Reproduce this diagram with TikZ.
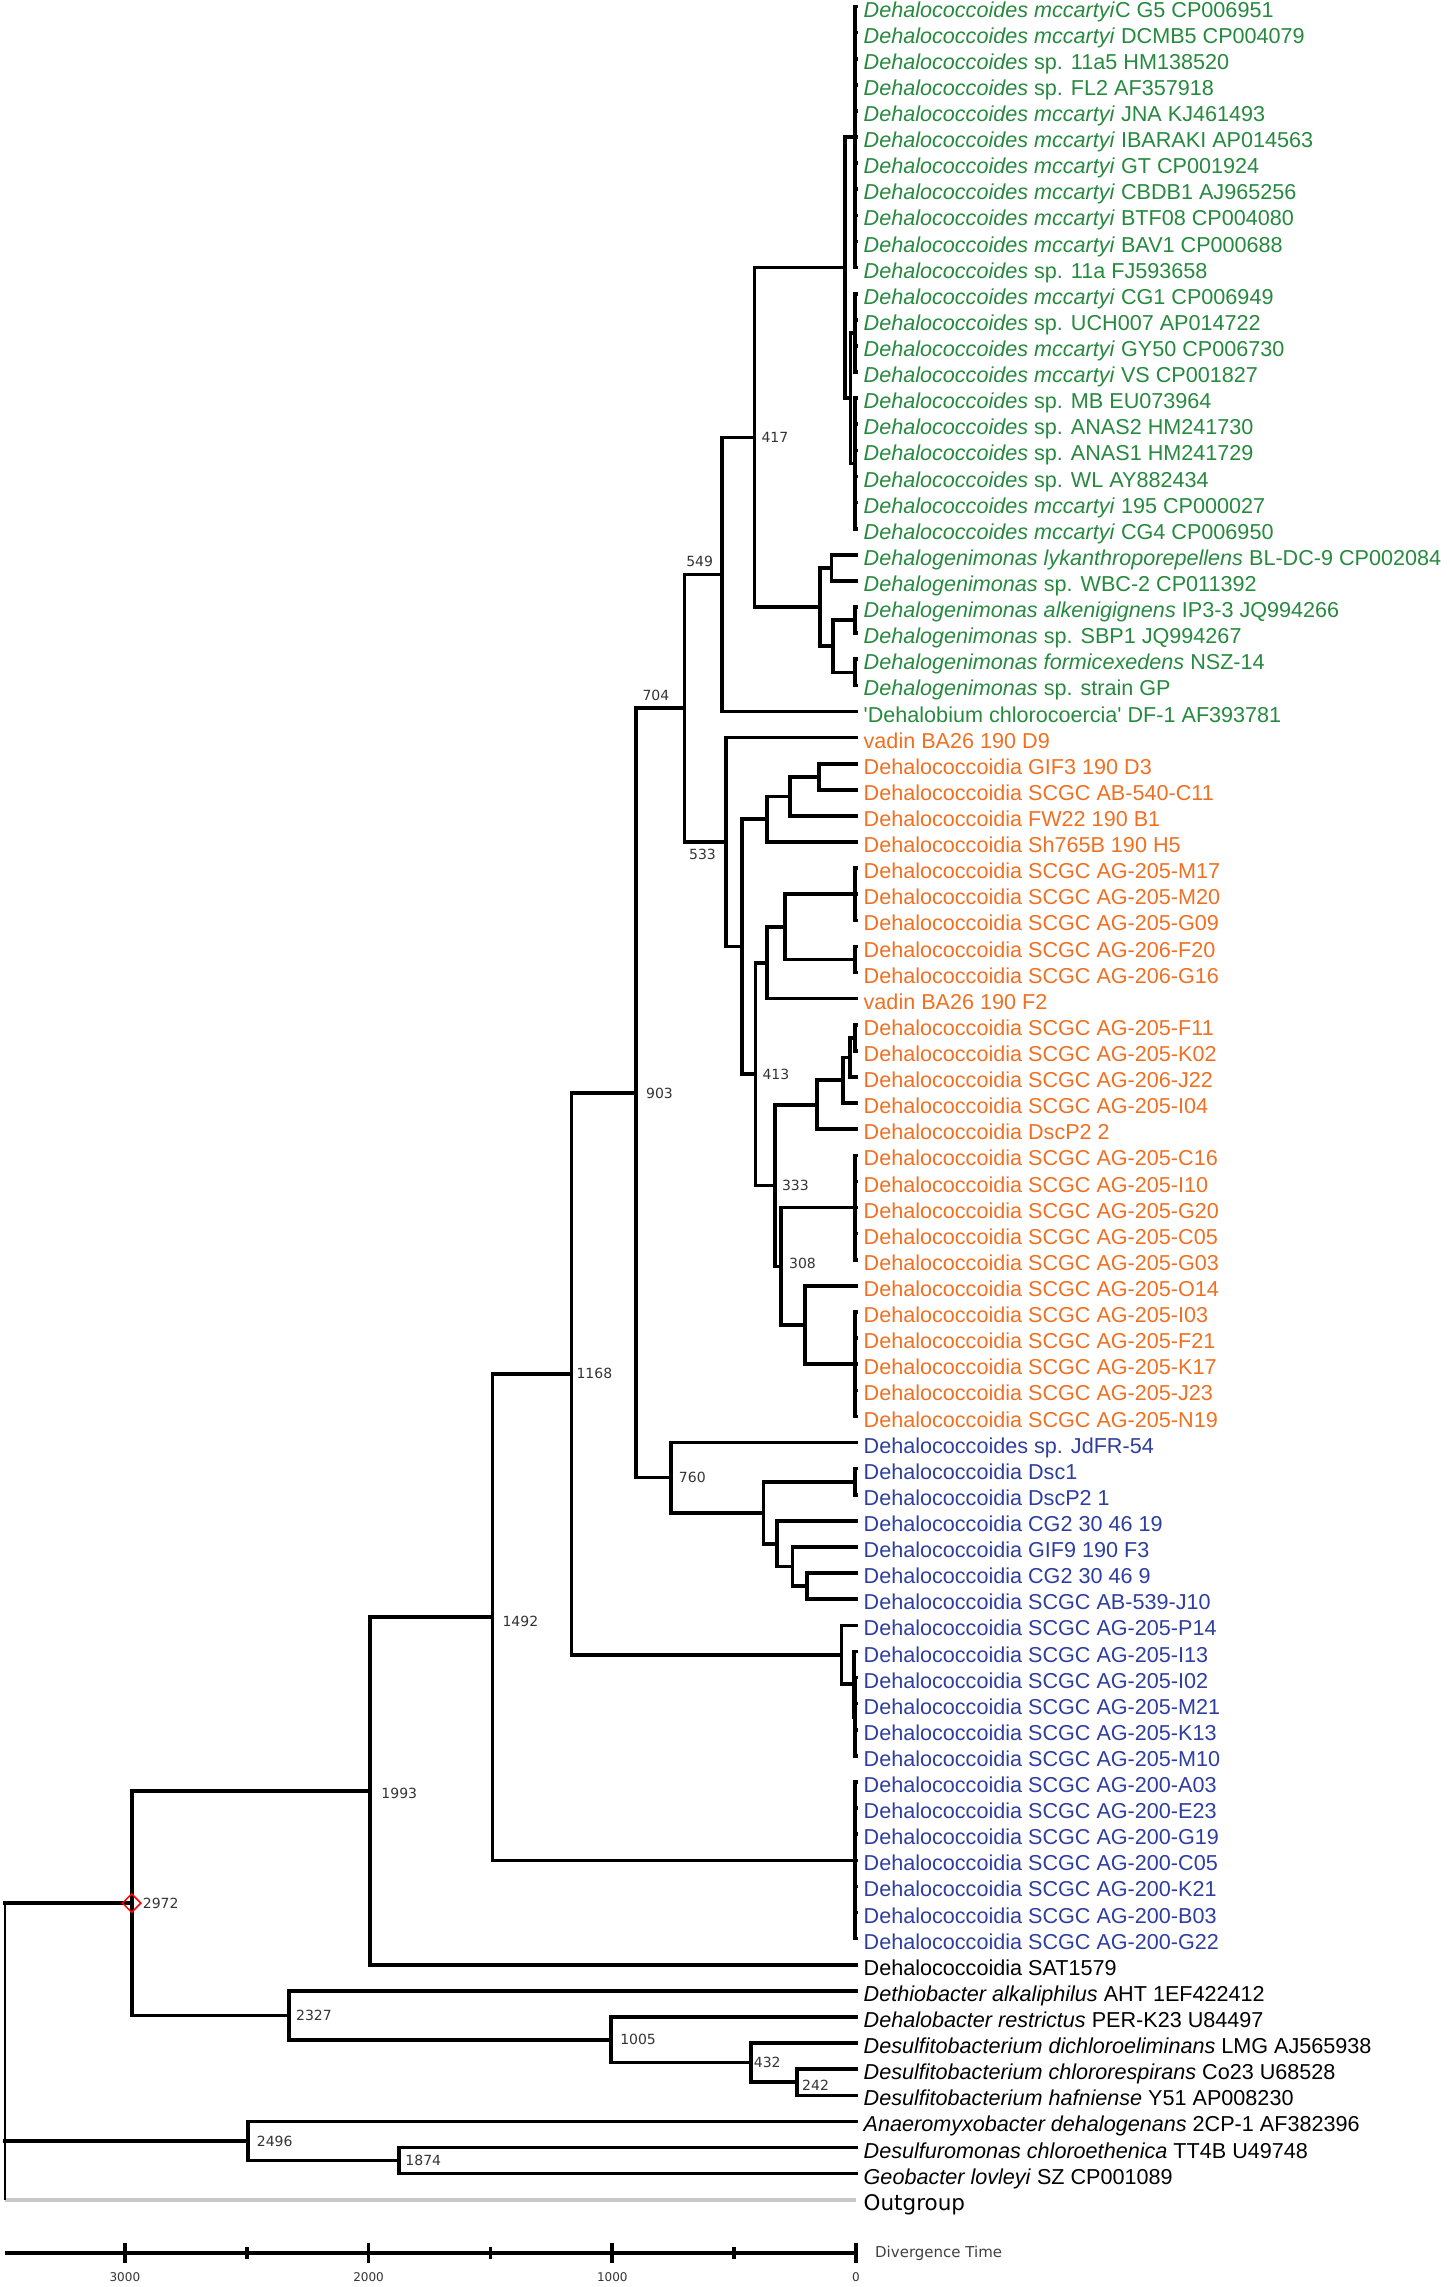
\documentclass[tikz,border=0pt]{standalone}
\usepackage{fontspec}
\setmainfont{Liberation Sans}
\newfontfamily\agefont{DejaVu Sans}
\usepackage{tikz}
\usetikzlibrary{shapes.geometric}
\definecolor{dgreen}{RGB}{38,138,62}
\definecolor{dorange}{RGB}{240,112,34}
\definecolor{dblue}{RGB}{46,62,160}

\begin{document}
\begin{tikzpicture}[
  x=-0.2437pt, y=-26.11pt,
  branch/.style={draw, line width=3.6pt, line cap=rect},
  outline/.style={draw=black!22, line width=4pt},
  leaflab/.style={anchor=west, inner sep=0pt, xshift=7.5pt, yshift=-5pt,
    text height=15.6pt, text depth=4.5pt, font=\fontsize{21.6}{24}\selectfont},
  agelab/.style={anchor=west, inner sep=0pt, text=black!80,
    font={\agefont\fontsize{14}{16}\selectfont}},
  ticklab/.style={inner sep=0pt, text=black!80, font={\agefont\fontsize{12}{14}\selectfont}},
  axisline/.style={line width=3.6pt}
]
\useasboundingbox (3512.5,0.751) rectangle (-2437.4,88.342);

\foreach \i in {1,...,85} \coordinate (t\i) at (0,\i);

% Dehalococcoides / Dehalogenimonas
\coordinate (pA) at (4,6);
\coordinate (pC1) at (4,13.5);
\coordinate (pC2) at (4,18.5);
\coordinate (nC) at (22,16);
\coordinate (nB) at (45,11);
\coordinate (pE1) at (100,22.5);
\coordinate (pE3) at (4,24.5);
\coordinate (pE4) at (4,26.5);
\coordinate (nE2) at (94,25.5);
\coordinate (nE) at (148,24);
\coordinate (n417) at (417,17.5);
\coordinate (n549) at (549,22.75);

% orange clade
\coordinate (nG11) at (152,30.5);
\coordinate (nG1) at (271,31.25);
\coordinate (nG) at (366,32.125);
\coordinate (pQ1) at (4,35);
\coordinate (pQ2) at (4,37.5);
\coordinate (nQ) at (291,36.25);
\coordinate (nP) at (366,37.625);
\coordinate (pM1) at (4,40.5);
\coordinate (nM) at (25,41.25);
\coordinate (nH2) at (53,42.125);
\coordinate (nH1) at (161,43.0625);
\coordinate (pL) at (4,47);
\coordinate (pK) at (4,53);
\coordinate (nJ) at (209,51.5);
\coordinate (n308) at (308,49.25);
\coordinate (n333) at (333,46.156);
\coordinate (n413) at (413,41.89);
\coordinate (nF) at (468,37.008);
\coordinate (n533) at (533,33.004);
\coordinate (n704) at (704,27.877);

% blue clade
\coordinate (pD2) at (4,57.5);
\coordinate (nD5) at (202,61.5);
\coordinate (nD4) at (261,60.75);
\coordinate (nD3) at (323,59.875);
\coordinate (nD1) at (380,58.688);
\coordinate (n760) at (760,57.344);
\coordinate (n903) at (903,42.61);
\coordinate (pS2) at (3,66.5);
\coordinate (nS1) at (8,65.25);
\coordinate (nS) at (59,64.125);
\coordinate (n1168) at (1168,53.37);
\coordinate (pT) at (4,72);
\coordinate (n1492) at (1492,62.685);
\coordinate (n1993) at (1993,69.34);

% outer taxa
\coordinate (n242) at (242,80.5);
\coordinate (n432) at (432,79.75);
\coordinate (n1005) at (1005,78.875);
\coordinate (n2327) at (2327,77.94);
\coordinate (n2972) at (2972,73.64);
\coordinate (n1874) at (1874,83.5);
\coordinate (n2496) at (2496,82.75);
\coordinate (root) at (3492,85);

\foreach \i in {1,...,11} \draw[branch] (pA) |- (t\i);
\foreach \i in {12,...,15} \draw[branch] (pC1) |- (t\i);
\foreach \i in {16,...,21} \draw[branch] (pC2) |- (t\i);
\draw[branch] (nC) |- (pC1);
\draw[branch] (nC) |- (pC2);
\draw[branch] (nB) |- (pA);
\draw[branch] (nB) |- (nC);
\draw[branch] (pE1) |- (t22);
\draw[branch] (pE1) |- (t23);
\draw[branch] (pE3) |- (t24);
\draw[branch] (pE3) |- (t25);
\draw[branch] (pE4) |- (t26);
\draw[branch] (pE4) |- (t27);
\draw[branch] (nE2) |- (pE3);
\draw[branch] (nE2) |- (pE4);
\draw[branch] (nE) |- (pE1);
\draw[branch] (nE) |- (nE2);
\draw[branch] (n417) |- (nB);
\draw[branch] (n417) |- (nE);
\draw[branch] (n549) |- (n417);
\draw[branch] (n549) |- (t28);

\draw[branch] (nG11) |- (t30);
\draw[branch] (nG11) |- (t31);
\draw[branch] (nG1) |- (nG11);
\draw[branch] (nG1) |- (t32);
\draw[branch] (nG) |- (nG1);
\draw[branch] (nG) |- (t33);
\foreach \i in {34,35,36} \draw[branch] (pQ1) |- (t\i);
\foreach \i in {37,38} \draw[branch] (pQ2) |- (t\i);
\draw[branch] (nQ) |- (pQ1);
\draw[branch] (nQ) |- (pQ2);
\draw[branch] (nP) |- (nQ);
\draw[branch] (nP) |- (t39);
\draw[branch] (pM1) |- (t40);
\draw[branch] (pM1) |- (t41);
\draw[branch] (nM) |- (pM1);
\draw[branch] (nM) |- (t42);
\draw[branch] (nH2) |- (nM);
\draw[branch] (nH2) |- (t43);
\draw[branch] (nH1) |- (nH2);
\draw[branch] (nH1) |- (t44);
\foreach \i in {45,...,49} \draw[branch] (pL) |- (t\i);
\foreach \i in {51,...,55} \draw[branch] (pK) |- (t\i);
\draw[branch] (nJ) |- (t50);
\draw[branch] (nJ) |- (pK);
\draw[branch] (n308) |- (pL);
\draw[branch] (n308) |- (nJ);
\draw[branch] (n333) |- (nH1);
\draw[branch] (n333) |- (n308);
\draw[branch] (n413) |- (nP);
\draw[branch] (n413) |- (n333);
\draw[branch] (nF) |- (nG);
\draw[branch] (nF) |- (n413);
\draw[branch] (n533) |- (t29);
\draw[branch] (n533) |- (nF);
\draw[branch] (n704) |- (n549);
\draw[branch] (n704) |- (n533);

\draw[branch] (pD2) |- (t57);
\draw[branch] (pD2) |- (t58);
\draw[branch] (nD5) |- (t61);
\draw[branch] (nD5) |- (t62);
\draw[branch] (nD4) |- (t60);
\draw[branch] (nD4) |- (nD5);
\draw[branch] (nD3) |- (t59);
\draw[branch] (nD3) |- (nD4);
\draw[branch] (nD1) |- (pD2);
\draw[branch] (nD1) |- (nD3);
\draw[branch] (n760) |- (t56);
\draw[branch] (n760) |- (nD1);
\draw[branch] (n903) |- (n704);
\draw[branch] (n903) |- (n760);
\foreach \i in {65,...,68} \draw[branch] (pS2) |- (t\i);
\draw[branch] (nS1) |- (t64);
\draw[branch] (nS1) |- (pS2);
\draw[branch] (nS) |- (t63);
\draw[branch] (nS) |- (nS1);
\draw[branch] (n1168) |- (n903);
\draw[branch] (n1168) |- (nS);
\foreach \i in {69,...,75} \draw[branch] (pT) |- (t\i);
\draw[branch] (n1492) |- (n1168);
\draw[branch] (n1492) |- (pT);
\draw[branch] (n1993) |- (n1492);
\draw[branch] (n1993) |- (t76);

\draw[branch] (n242) |- (t80);
\draw[branch] (n242) |- (t81);
\draw[branch] (n432) |- (t79);
\draw[branch] (n432) |- (n242);
\draw[branch] (n1005) |- (t78);
\draw[branch] (n1005) |- (n432);
\draw[branch] (n2327) |- (t77);
\draw[branch] (n2327) |- (n1005);
\draw[branch] (n2972) |- (n1993);
\draw[branch] (n2972) |- (n2327);
\draw[branch] (n1874) |- (t83);
\draw[branch] (n1874) |- (t84);
\draw[branch] (n2496) |- (t82);
\draw[branch] (n2496) |- (n1874);
\draw[outline] (root) -- (t85);
\draw[line width=2pt] (root) -- (root |- n2972);
\draw[branch] (root |- n2972) -- (n2972);
\draw[branch] (root |- n2496) -- (n2496);

\node[leaflab,text=dgreen] (l1) at (t1) {\textit{Dehalococcoides mccartyi}C G5 CP006951};
\node[leaflab,text=dgreen] (l2) at (t2) {\textit{Dehalococcoides mccartyi} DCMB5 CP004079};
\node[leaflab,text=dgreen] (l3) at (t3) {\textit{Dehalococcoides} sp. 11a5 HM138520};
\node[leaflab,text=dgreen] (l4) at (t4) {\textit{Dehalococcoides} sp. FL2 AF357918};
\node[leaflab,text=dgreen] (l5) at (t5) {\textit{Dehalococcoides mccartyi} JNA KJ461493};
\node[leaflab,text=dgreen] (l6) at (t6) {\textit{Dehalococcoides mccartyi} IBARAKI AP014563};
\node[leaflab,text=dgreen] (l7) at (t7) {\textit{Dehalococcoides mccartyi} GT CP001924};
\node[leaflab,text=dgreen] (l8) at (t8) {\textit{Dehalococcoides mccartyi} CBDB1 AJ965256};
\node[leaflab,text=dgreen] (l9) at (t9) {\textit{Dehalococcoides mccartyi} BTF08 CP004080};
\node[leaflab,text=dgreen] (l10) at (t10) {\textit{Dehalococcoides mccartyi} BAV1 CP000688};
\node[leaflab,text=dgreen] (l11) at (t11) {\textit{Dehalococcoides} sp. 11a FJ593658};
\node[leaflab,text=dgreen] (l12) at (t12) {\textit{Dehalococcoides mccartyi} CG1 CP006949};
\node[leaflab,text=dgreen] (l13) at (t13) {\textit{Dehalococcoides} sp. UCH007 AP014722};
\node[leaflab,text=dgreen] (l14) at (t14) {\textit{Dehalococcoides mccartyi} GY50 CP006730};
\node[leaflab,text=dgreen] (l15) at (t15) {\textit{Dehalococcoides mccartyi} VS CP001827};
\node[leaflab,text=dgreen] (l16) at (t16) {\textit{Dehalococcoides} sp. MB EU073964};
\node[leaflab,text=dgreen] (l17) at (t17) {\textit{Dehalococcoides} sp. ANAS2 HM241730};
\node[leaflab,text=dgreen] (l18) at (t18) {\textit{Dehalococcoides} sp. ANAS1 HM241729};
\node[leaflab,text=dgreen] (l19) at (t19) {\textit{Dehalococcoides} sp. WL AY882434};
\node[leaflab,text=dgreen] (l20) at (t20) {\textit{Dehalococcoides mccartyi} 195 CP000027};
\node[leaflab,text=dgreen] (l21) at (t21) {\textit{Dehalococcoides mccartyi} CG4 CP006950};
\node[leaflab,text=dgreen] (l22) at (t22) {\textit{Dehalogenimonas lykanthroporepellens} BL-DC-9 CP002084};
\node[leaflab,text=dgreen] (l23) at (t23) {\textit{Dehalogenimonas} sp. WBC-2 CP011392};
\node[leaflab,text=dgreen] (l24) at (t24) {\textit{Dehalogenimonas alkenigignens} IP3-3 JQ994266};
\node[leaflab,text=dgreen] (l25) at (t25) {\textit{Dehalogenimonas} sp. SBP1 JQ994267};
\node[leaflab,text=dgreen] (l26) at (t26) {\textit{Dehalogenimonas formicexedens} NSZ-14};
\node[leaflab,text=dgreen] (l27) at (t27) {\textit{Dehalogenimonas} sp. strain GP};
\node[leaflab,text=dgreen] (l28) at (t28) {\textquotesingle Dehalobium chlorocoercia\textquotesingle{} DF-1 AF393781};

\node[leaflab,text=dorange] (l29) at (t29) {vadin BA26 190 D9};
\node[leaflab,text=dorange] (l30) at (t30) {Dehalococcoidia GIF3 190 D3};
\node[leaflab,text=dorange] (l31) at (t31) {Dehalococcoidia SCGC AB-540-C11};
\node[leaflab,text=dorange] (l32) at (t32) {Dehalococcoidia FW22 190 B1};
\node[leaflab,text=dorange] (l33) at (t33) {Dehalococcoidia Sh765B 190 H5};
\node[leaflab,text=dorange] (l34) at (t34) {Dehalococcoidia SCGC AG-205-M17};
\node[leaflab,text=dorange] (l35) at (t35) {Dehalococcoidia SCGC AG-205-M20};
\node[leaflab,text=dorange] (l36) at (t36) {Dehalococcoidia SCGC AG-205-G09};
\node[leaflab,text=dorange] (l37) at (t37) {Dehalococcoidia SCGC AG-206-F20};
\node[leaflab,text=dorange] (l38) at (t38) {Dehalococcoidia SCGC AG-206-G16};
\node[leaflab,text=dorange] (l39) at (t39) {vadin BA26 190 F2};
\node[leaflab,text=dorange] (l40) at (t40) {Dehalococcoidia SCGC AG-205-F11};
\node[leaflab,text=dorange] (l41) at (t41) {Dehalococcoidia SCGC AG-205-K02};
\node[leaflab,text=dorange] (l42) at (t42) {Dehalococcoidia SCGC AG-206-J22};
\node[leaflab,text=dorange] (l43) at (t43) {Dehalococcoidia SCGC AG-205-I04};
\node[leaflab,text=dorange] (l44) at (t44) {Dehalococcoidia DscP2 2};
\node[leaflab,text=dorange] (l45) at (t45) {Dehalococcoidia SCGC AG-205-C16};
\node[leaflab,text=dorange] (l46) at (t46) {Dehalococcoidia SCGC AG-205-I10};
\node[leaflab,text=dorange] (l47) at (t47) {Dehalococcoidia SCGC AG-205-G20};
\node[leaflab,text=dorange] (l48) at (t48) {Dehalococcoidia SCGC AG-205-C05};
\node[leaflab,text=dorange] (l49) at (t49) {Dehalococcoidia SCGC AG-205-G03};
\node[leaflab,text=dorange] (l50) at (t50) {Dehalococcoidia SCGC AG-205-O14};
\node[leaflab,text=dorange] (l51) at (t51) {Dehalococcoidia SCGC AG-205-I03};
\node[leaflab,text=dorange] (l52) at (t52) {Dehalococcoidia SCGC AG-205-F21};
\node[leaflab,text=dorange] (l53) at (t53) {Dehalococcoidia SCGC AG-205-K17};
\node[leaflab,text=dorange] (l54) at (t54) {Dehalococcoidia SCGC AG-205-J23};
\node[leaflab,text=dorange] (l55) at (t55) {Dehalococcoidia SCGC AG-205-N19};

\node[leaflab,text=dblue] (l56) at (t56) {Dehalococcoides sp. JdFR-54};
\node[leaflab,text=dblue] (l57) at (t57) {Dehalococcoidia Dsc1};
\node[leaflab,text=dblue] (l58) at (t58) {Dehalococcoidia DscP2 1};
\node[leaflab,text=dblue] (l59) at (t59) {Dehalococcoidia CG2 30 46 19};
\node[leaflab,text=dblue] (l60) at (t60) {Dehalococcoidia GIF9 190 F3};
\node[leaflab,text=dblue] (l61) at (t61) {Dehalococcoidia CG2 30 46 9};
\node[leaflab,text=dblue] (l62) at (t62) {Dehalococcoidia SCGC AB-539-J10};
\node[leaflab,text=dblue] (l63) at (t63) {Dehalococcoidia SCGC AG-205-P14};
\node[leaflab,text=dblue] (l64) at (t64) {Dehalococcoidia SCGC AG-205-I13};
\node[leaflab,text=dblue] (l65) at (t65) {Dehalococcoidia SCGC AG-205-I02};
\node[leaflab,text=dblue] (l66) at (t66) {Dehalococcoidia SCGC AG-205-M21};
\node[leaflab,text=dblue] (l67) at (t67) {Dehalococcoidia SCGC AG-205-K13};
\node[leaflab,text=dblue] (l68) at (t68) {Dehalococcoidia SCGC AG-205-M10};
\node[leaflab,text=dblue] (l69) at (t69) {Dehalococcoidia SCGC AG-200-A03};
\node[leaflab,text=dblue] (l70) at (t70) {Dehalococcoidia SCGC AG-200-E23};
\node[leaflab,text=dblue] (l71) at (t71) {Dehalococcoidia SCGC AG-200-G19};
\node[leaflab,text=dblue] (l72) at (t72) {Dehalococcoidia SCGC AG-200-C05};
\node[leaflab,text=dblue] (l73) at (t73) {Dehalococcoidia SCGC AG-200-K21};
\node[leaflab,text=dblue] (l74) at (t74) {Dehalococcoidia SCGC AG-200-B03};
\node[leaflab,text=dblue] (l75) at (t75) {Dehalococcoidia SCGC AG-200-G22};

\node[leaflab] (l76) at (t76) {Dehalococcoidia SAT1579};
\node[leaflab] (l77) at (t77) {\textit{Dethiobacter alkaliphilus} AHT 1EF422412};
\node[leaflab] (l78) at (t78) {\textit{Dehalobacter restrictus} PER-K23 U84497};
\node[leaflab] (l79) at (t79) {\textit{Desulfitobacterium dichloroeliminans} LMG AJ565938};
\node[leaflab] (l80) at (t80) {\textit{Desulfitobacterium chlororespirans} Co23 U68528};
\node[leaflab] (l81) at (t81) {\textit{Desulfitobacterium hafniense} Y51 AP008230};
\node[leaflab] (l82) at (t82) {\textit{Anaeromyxobacter dehalogenans} 2CP-1 AF382396};
\node[leaflab] (l83) at (t83) {\textit{Desulfuromonas chloroethenica} TT4B U49748};
\node[leaflab] (l84) at (t84) {\textit{Geobacter lovleyi} SZ CP001089};
\node[leaflab,font={\agefont\fontsize{21.5}{24}\selectfont}] (l85) at (t85) {Outgroup};

\node[agelab,xshift=7pt] (a417) at (n417) {417};
\node[agelab,anchor=east,xshift=-9pt,yshift=12.5pt] (a549) at (n549) {549};
\node[agelab,anchor=east,xshift=-15pt,yshift=13pt] (a704) at (n704) {704};
\node[agelab,anchor=east,xshift=-10pt,yshift=-12pt] (a533) at (n533) {533};
\node[agelab,xshift=7pt] (a413) at (n413) {413};
\node[agelab,xshift=7pt] (a333) at (n333) {333};
\node[agelab,xshift=8pt,yshift=3pt] (a308) at (n308) {308};
\node[agelab,xshift=10pt] (a903) at (n903) {903};
\node[agelab,xshift=8pt] (a760) at (n760) {760};
\node[agelab,xshift=5pt] (a1168) at (n1168) {1168};
\node[agelab,xshift=10pt,yshift=-4pt] (a1492) at (n1492) {1492};
\node[agelab,xshift=11pt,yshift=-3pt] (a1993) at (n1993) {1993};
\node[agelab,xshift=11pt] (a2972) at (n2972) {2972};
\node[agelab,xshift=7pt] (a2327) at (n2327) {2327};
\node[agelab,xshift=9pt] (a1005) at (n1005) {1005};
\node[agelab,xshift=3pt] (a432) at (n432) {432};
\node[agelab,xshift=5pt,yshift=-3pt] (a242) at (n242) {242};
\node[agelab,xshift=9pt] (a2496) at (n2496) {2496};
\node[agelab,xshift=6pt] (a1874) at (n1874) {1874};

\node[diamond, draw=red, line width=1.5pt, minimum size=19pt, inner sep=0pt] (dia) at (n2972) {};

\coordinate (ax0) at (0,87.04);
\coordinate (ax1) at (3492,87.04);
\draw[axisline] (ax1) -- (ax0);
\foreach \t in {0,1000,2000,3000} \draw[axisline] (\t,87.04) ++(0,10pt) -- ++(0,-20pt);
\foreach \t in {500,1500,2500} \draw[axisline] (\t,87.04) ++(0,6pt) -- ++(0,-12pt);
\foreach \t in {0,1000,2000,3000} \node[ticklab] (k\t) at (\t,87.96) {\t};
\node[anchor=west, inner sep=0pt, xshift=19pt, text=black!75,
  font={\agefont\fontsize{15}{17}\selectfont}] (dtime) at (ax0) {Divergence Time};

\end{tikzpicture}
\end{document}
